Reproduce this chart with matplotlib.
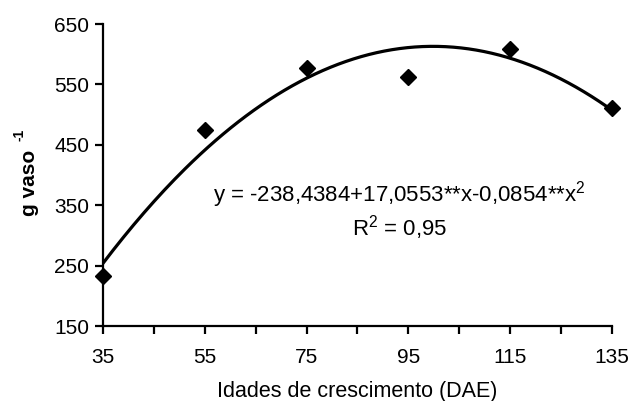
import numpy as np
import matplotlib
matplotlib.use("Agg")
import matplotlib.pyplot as plt

plt.rcParams['font.family'] = ['Liberation Sans', 'DejaVu Sans']
plt.rcParams['mathtext.fontset'] = 'custom'
plt.rcParams['mathtext.rm'] = 'Liberation Sans'

# Data
dae = [35, 55, 75, 95, 115, 135]
massa = [233, 474, 577, 562, 608, 511]
# Regression coefficients shown on the chart
b0, b1, b2 = -238.4384, 17.0553, -0.0854
xticks = [35, 55, 75, 95, 115, 135]
yticks = [150, 250, 350, 450, 550, 650]

fig = plt.figure(figsize=(6.32, 4.01), dpi=100)
ax = fig.add_axes([0.163, 0.187, 0.805, 0.753])

xs = np.linspace(min(dae), max(dae), 200)
ax.plot(xs, b0 + b1 * xs + b2 * xs ** 2, color='black', lw=2.3, zorder=2)
ax.plot(dae, massa, 'D', color='black', markersize=8.5, zorder=3, clip_on=False)

ax.set_xlim(35, 135)
ax.set_ylim(150, 650)
ax.set_xticks(xticks)
ax.set_xticks(np.arange(45, 135, 20), minor=True)
ax.set_yticks(yticks)
ax.tick_params(axis='both', which='both', direction='out', length=6, width=1.6,
               labelsize=15, color='black')
ax.tick_params(axis='x', pad=10)
ax.tick_params(axis='y', pad=4)
for s in ['top', 'right']:
    ax.spines[s].set_visible(False)
for s in ['left', 'bottom']:
    ax.spines[s].set_linewidth(1.6)

ax.set_xlabel('Idades de crescimento (DAE)', fontsize=15.5, labelpad=10)

fig.text(0.046, 0.545, 'g vaso', rotation=90, ha='center', va='center',
         fontsize=15, fontweight='bold')
fig.text(0.031, 0.663, '-1', rotation=90, ha='center', va='center',
         fontsize=10, fontweight='bold')

ax.text(0.583, 0.434, 'y = -238,4384+17,0553**x-0,0854**x$^{\\mathrm{2}}$', transform=ax.transAxes,
        ha='center', va='center', fontsize=16)
ax.text(0.583, 0.325, 'R$^{\\mathrm{2}}$ = 0,95', transform=ax.transAxes,
        ha='center', va='center', fontsize=16)

fig.savefig('out.png', dpi=100)
